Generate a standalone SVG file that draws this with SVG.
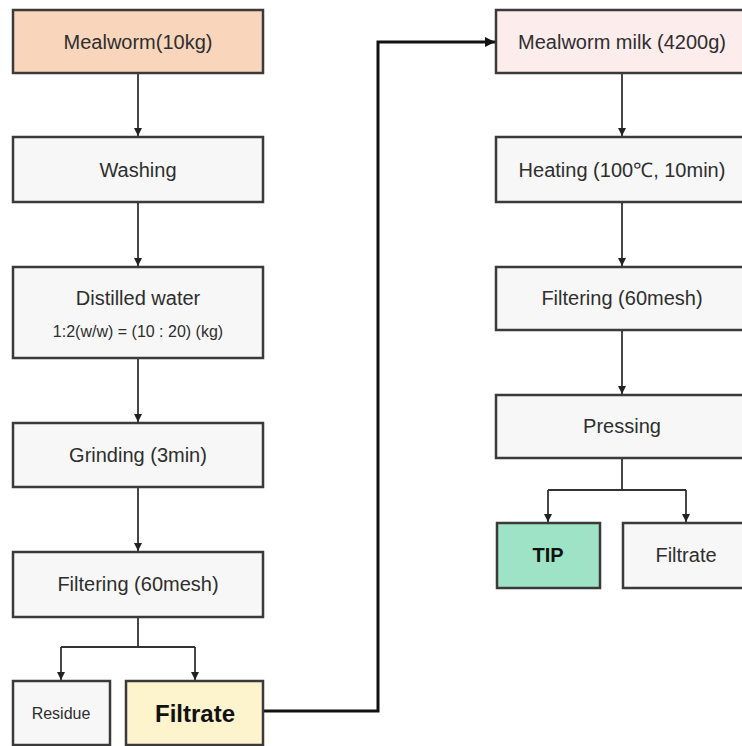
<svg xmlns="http://www.w3.org/2000/svg" width="742" height="746" viewBox="0 0 742 746">
<style>
.box{stroke:#3a3a3a;stroke-width:2.5}
.plain{fill:#f7f7f7}
.t{font-family:"Liberation Sans",Arial,sans-serif;font-size:20px;fill:#2e2e2e;text-anchor:middle;dominant-baseline:central}
.c{fill:none;stroke:#333;stroke-width:1.8}
.cb{fill:none;stroke:#111;stroke-width:3}
</style>
<defs>
<marker id="ah" viewBox="0 0 10 10" refX="10" refY="5" markerWidth="9" markerHeight="8" markerUnits="userSpaceOnUse" orient="auto">
<path d="M0,0 L10,5 L0,10 z" fill="#222"/>
</marker>
<marker id="ahb" viewBox="0 0 10 10" refX="10" refY="5" markerWidth="11" markerHeight="10" markerUnits="userSpaceOnUse" orient="auto">
<path d="M0,0 L10,5 L0,10 z" fill="#111"/>
</marker>
</defs>
<rect width="742" height="746" fill="#fff"/>
<g id="connectors">
<path class="c" d="M138,73 V136" marker-end="url(#ah)"/>
<path class="c" d="M138,202 V266" marker-end="url(#ah)"/>
<path class="c" d="M138,358 V422" marker-end="url(#ah)"/>
<path class="c" d="M138,487 V551" marker-end="url(#ah)"/>
<path class="c" d="M138,617 V647 M61,647 H195"/>
<path class="c" d="M61,647 V680" marker-end="url(#ah)"/>
<path class="c" d="M195,647 V680" marker-end="url(#ah)"/>
<path class="cb" d="M263,711 H378 V42 H495" marker-end="url(#ahb)"/>
<path class="c" d="M622,73 V136" marker-end="url(#ah)"/>
<path class="c" d="M622,202 V266" marker-end="url(#ah)"/>
<path class="c" d="M622,330 V394" marker-end="url(#ah)"/>
<path class="c" d="M622,458 V490 M548,490 H686"/>
<path class="c" d="M548,490 V522" marker-end="url(#ah)"/>
<path class="c" d="M686,490 V522" marker-end="url(#ah)"/>
</g>
<g id="n1"><rect class="box" x="13" y="10" width="250" height="63" fill="#f9d6bb"/><text class="t" x="138" y="42">Mealworm(10kg)</text></g>
<g id="n2"><rect class="box plain" x="13" y="137" width="250" height="65"/><text class="t" x="138" y="170">Washing</text></g>
<g id="n3"><rect class="box plain" x="13" y="267" width="250" height="91"/><text class="t" x="138" y="298">Distilled water</text><text class="t" x="138" y="331" style="font-size:16px">1:2(w/w) = (10 : 20) (kg)</text></g>
<g id="n4"><rect class="box plain" x="13" y="423" width="250" height="64"/><text class="t" x="138" y="455">Grinding (3min)</text></g>
<g id="n5"><rect class="box plain" x="13" y="552" width="250" height="65"/><text class="t" x="138" y="584">Filtering (60mesh)</text></g>
<g id="n6"><rect class="box plain" x="13" y="681" width="97" height="64"/><text class="t" x="61" y="713" style="font-size:16px">Residue</text></g>
<g id="n7"><rect class="box" x="126" y="681" width="137" height="64" fill="#fdf3cc"/><text class="t" x="195" y="713" style="font-size:24px;font-weight:bold;fill:#111">Filtrate</text></g>
<g id="n8"><rect class="box" x="496" y="10" width="250" height="63" fill="#fcecec"/><text class="t" x="622" y="42">Mealworm milk (4200g)</text></g>
<g id="n9"><rect class="box plain" x="496" y="137" width="250" height="65"/><text class="t" x="622" y="170">Heating (100℃, 10min)</text></g>
<g id="n10"><rect class="box plain" x="496" y="267" width="250" height="63"/><text class="t" x="622" y="298">Filtering (60mesh)</text></g>
<g id="n11"><rect class="box plain" x="496" y="395" width="250" height="63"/><text class="t" x="622" y="426">Pressing</text></g>
<g id="n12"><rect class="box" x="497" y="523" width="103" height="65" fill="#9fe3c6"/><text class="t" x="548" y="555" style="font-weight:bold;fill:#111">TIP</text></g>
<g id="n13"><rect class="box plain" x="623" y="523" width="123" height="65"/><text class="t" x="686" y="555">Filtrate</text></g>
</svg>
